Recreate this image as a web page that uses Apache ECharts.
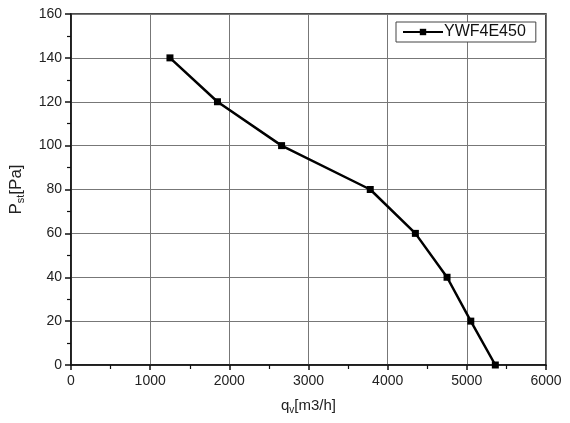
<!DOCTYPE html>
<html>
<head>
<meta charset="UTF-8">
<title>YWF4E450</title>
<script src="https://cdn.jsdelivr.net/npm/echarts@6/dist/echarts.min.js"></script>
<style>
	html, body { margin: 0; padding: 0; background: #fff; }
</style>
</head>
<body>
	<div id="main" style="width: 570px; height: 423px;"></div>

	<script type="text/javascript">
		// 风量 / 静压 读数
		var seriesName = 'YWF4E450';
		var flowValues = [1250, 1850, 2660, 3780, 4350, 4750, 5050, 5360];
		var pressureValues = [140, 120, 100, 80, 60, 40, 20, 0];
		var xTicks = [0, 1000, 2000, 3000, 4000, 5000, 6000];
		var yTicks = [0, 20, 40, 60, 80, 100, 120, 140, 160];

		var points = [];
		for (var i = 0; i < flowValues.length; i++) {
			points.push([flowValues[i], pressureValues[i]]);
		}

		var font = 'Liberation Sans, Arial, sans-serif';
		var myChart = echarts.init(document.getElementById('main'));
		myChart.setOption({
			animation : false,
			textStyle : { fontFamily : font },
			grid : {
				left : 69, right : 24, top : 14, bottom : 58,
				show : true, borderColor : '#111', borderWidth : 1.5
			},
			legend : {
				data : [ seriesName ],
				left : 396, top : 22,
				itemWidth : 40, itemHeight : 8, itemGap : 2,
				padding : [ 2, 10, 2, 6 ],
				borderColor : '#444', borderWidth : 1,
				backgroundColor : '#fff',
				textStyle : { fontSize : 16, color : '#111', fontFamily : font, padding : [0, 0, 0, -4] }
			},
			xAxis : {
				type : 'value',
				min : xTicks[0], max : xTicks[xTicks.length - 1], interval : 1000,
				name : '{a|q}{b|v}{a|[m3/h]}',
				nameLocation : 'middle', nameGap : 32,
				nameTextStyle : {
					rich : {
						a : { fontSize : 15, color : '#222', fontFamily : font },
						b : { fontSize : 10, color : '#222', fontFamily : font, padding : [8, 0, 0, 0] }
					}
				},
				axisLine : { onZero : false, lineStyle : { color : '#111', width : 1.5 } },
				axisTick : { inside : false, length : 5, lineStyle : { color : '#111', width : 1.5 } },
				minorTick : { show : true, splitNumber : 2, length : 4, lineStyle : { color : '#111', width : 1.2 } },
				axisLabel : {
					fontSize : 14, color : '#222', margin : 9,
					formatter : function (v) { return String(v); }
				},
				splitLine : { show : true, lineStyle : { color : '#777', width : 1 } }
			},
			yAxis : {
				type : 'value',
				min : yTicks[0], max : yTicks[yTicks.length - 1], interval : 20,
				name : '{a|P}{b|st}{a|[Pa]}',
				nameLocation : 'middle', nameGap : 45, nameRotate : 90,
				nameTextStyle : {
					rich : {
						a : { fontSize : 17, color : '#222', fontFamily : font },
						b : { fontSize : 11, color : '#222', fontFamily : font, padding : [8, 0, 0, 0] }
					}
				},
				axisLine : { onZero : false, lineStyle : { color : '#111', width : 1.5 } },
				axisTick : { inside : false, length : 6, lineStyle : { color : '#111', width : 1.5 } },
				minorTick : { show : true, splitNumber : 2, length : 4, lineStyle : { color : '#111', width : 1.2 } },
				axisLabel : {
					fontSize : 14, color : '#222', margin : 9,
					formatter : function (v) { return String(v); }
				},
				splitLine : { show : true, lineStyle : { color : '#777', width : 1 } }
			},
			series : [ {
				name : seriesName,
				type : 'line',
				data : points,
				symbol : 'rect',
				symbolSize : 7,
				showAllSymbol : true,
				lineStyle : { color : '#000', width : 2.5 },
				itemStyle : { color : '#000' },
				z : 5
			} ]
		});
	</script>
</body>
</html>
